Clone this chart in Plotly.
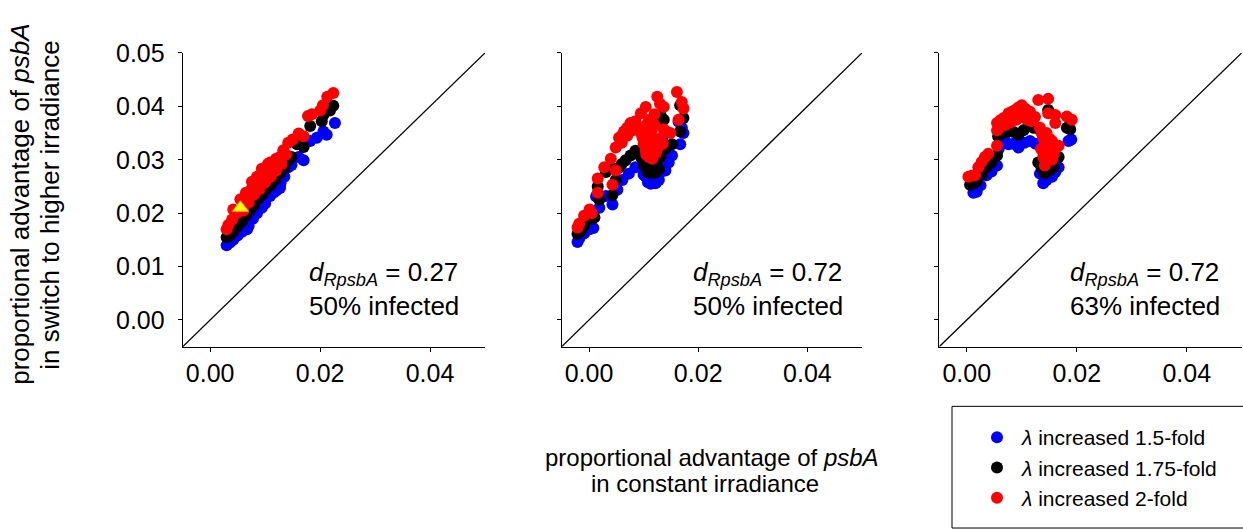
import plotly.graph_objects as go

AXIS_MIN = -0.005
AXIS_MAX = 0.05
X_TICKS = [0.00, 0.02, 0.04]
Y_TICKS = [0.00, 0.01, 0.02, 0.03, 0.04, 0.05]

SERIES_NAMES = ["<i>λ</i> increased 1.5-fold", "<i>λ</i> increased 1.75-fold", "<i>λ</i> increased 2-fold"]
SERIES_COLORS = ["#0000FF", "#000000", "#FF0000"]

PANEL_LABELS = ["<i>d</i><sub><i>RpsbA</i></sub> = 0.27<br>50% infected",
                "<i>d</i><sub><i>RpsbA</i></sub> = 0.72<br>50% infected",
                "<i>d</i><sub><i>RpsbA</i></sub> = 0.72<br>63% infected"]

# ---- panel 1 ----
P1_X_BLUE = [0.0030, 0.0036, 0.0042, 0.0050, 0.0058, 0.0067, 0.0070, 0.0078, 0.0085, 0.0094, 0.0100, 0.0109,
             0.0115, 0.0120, 0.0127, 0.0128, 0.0135, 0.0142, 0.0148, 0.0161, 0.0170, 0.0182, 0.0194, 0.0206,
             0.0212, 0.0227]
P1_Y_BLUE = [0.0140, 0.0145, 0.0150, 0.0158, 0.0165, 0.0170, 0.0176, 0.0190, 0.0200, 0.0210, 0.0218, 0.0232,
             0.0238, 0.0242, 0.0247, 0.0256, 0.0268, 0.0286, 0.0290, 0.0305, 0.0299, 0.0335, 0.0341, 0.0353,
             0.0347, 0.0369]
P1_X_BLACK = [0.0030, 0.0036, 0.0042, 0.0050, 0.0058, 0.0065, 0.0072, 0.0080, 0.0088, 0.0095, 0.0102, 0.0110,
              0.0118, 0.0127, 0.0135, 0.0142, 0.0148, 0.0158, 0.0170, 0.0182, 0.0203, 0.0206, 0.0218, 0.0224,
              0.0045, 0.0062, 0.0078, 0.0098, 0.0115]
P1_Y_BLACK = [0.0155, 0.0158, 0.0165, 0.0175, 0.0185, 0.0195, 0.0205, 0.0215, 0.0228, 0.0235, 0.0245, 0.0252,
              0.0262, 0.0274, 0.0285, 0.0299, 0.0305, 0.0329, 0.0324, 0.0363, 0.0372, 0.0384, 0.0392, 0.0401,
              0.0182, 0.0203, 0.0225, 0.0250, 0.0270]
P1_X_RED = [0.0030, 0.0033, 0.0040, 0.0042, 0.0048, 0.0055, 0.0060, 0.0065, 0.0070, 0.0076, 0.0080, 0.0085,
            0.0090, 0.0094, 0.0100, 0.0105, 0.0109, 0.0115, 0.0120, 0.0127, 0.0133, 0.0142, 0.0150, 0.0161,
            0.0170, 0.0178, 0.0185, 0.0200, 0.0205, 0.0213, 0.0224,
            0.0060, 0.0065, 0.0070, 0.0075, 0.0080, 0.0085, 0.0090, 0.0095, 0.0100, 0.0105, 0.0110, 0.0115,
            0.0120, 0.0125, 0.0130, 0.0138]
P1_Y_RED = [0.0170, 0.0178, 0.0188, 0.0207, 0.0200, 0.0226, 0.0218, 0.0238, 0.0232, 0.0259, 0.0250, 0.0268,
            0.0262, 0.0283, 0.0275, 0.0292, 0.0295, 0.0288, 0.0302, 0.0305, 0.0318, 0.0332, 0.0338, 0.0349,
            0.0344, 0.0382, 0.0385, 0.0392, 0.0402, 0.0418, 0.0425,
            0.0205, 0.0228, 0.0220, 0.0245, 0.0235, 0.0258, 0.0245, 0.0270, 0.0258, 0.0282, 0.0268, 0.0292,
            0.0280, 0.0300, 0.0292, 0.0310]
P1_REF_X = [0.0055]
P1_REF_Y = [0.0210]

# ---- panel 2 ----
P2_X_BLUE = [-0.0021, -0.0018, -0.0009, 0.0001, 0.0008, 0.0013, 0.0019, 0.0031, 0.0043, 0.0052, 0.0061, 0.0073,
             0.0085, 0.0095, 0.0100, 0.0104, 0.0110, 0.0116, 0.0119, 0.0125, 0.0130, 0.0140, 0.0146, 0.0152,
             0.0134, 0.0167, 0.0173, 0.0164, 0.0170, 0.0108, 0.0113, 0.0122, 0.0128]
P2_Y_BLUE = [0.0146, 0.0152, 0.0162, 0.0170, 0.0172, 0.0231, 0.0210, 0.0232, 0.0216, 0.0244, 0.0262, 0.0274,
             0.0286, 0.0286, 0.0272, 0.0268, 0.0264, 0.0259, 0.0262, 0.0268, 0.0275, 0.0280, 0.0295, 0.0308,
             0.0341, 0.0329, 0.0350, 0.0371, 0.0360, 0.0258, 0.0255, 0.0256, 0.0262]
P2_X_BLACK = [-0.0021, -0.0015, -0.0009, 0.0004, 0.0010, 0.0016, 0.0019, 0.0031, 0.0043, 0.0049, 0.0055, 0.0067,
              0.0076, 0.0085, 0.0095, 0.0100, 0.0104, 0.0112, 0.0119, 0.0125, 0.0131, 0.0140, 0.0152, 0.0131,
              0.0137, 0.0167, 0.0173, 0.0167, 0.0110, 0.0108, 0.0115, 0.0122, 0.0128, 0.0040, 0.0060]
P2_Y_BLACK = [0.0161, 0.0166, 0.0176, 0.0189, 0.0192, 0.0250, 0.0225, 0.0277, 0.0234, 0.0262, 0.0285, 0.0299,
              0.0308, 0.0317, 0.0305, 0.0292, 0.0286, 0.0282, 0.0280, 0.0290, 0.0305, 0.0320, 0.0329, 0.0384,
              0.0375, 0.0402, 0.0378, 0.0353, 0.0360, 0.0276, 0.0275, 0.0276, 0.0282, 0.0285, 0.0292]
P2_X_RED = [-0.0021, -0.0018, -0.0009, 0.0001, 0.0005, 0.0016, 0.0016, 0.0028, 0.0040, 0.0043, 0.0049, 0.0049,
            0.0055, 0.0060, 0.0064, 0.0070, 0.0076, 0.0085, 0.0095, 0.0104, 0.0098, 0.0100, 0.0104, 0.0108,
            0.0110, 0.0112, 0.0116, 0.0118, 0.0120, 0.0122, 0.0125, 0.0128, 0.0130, 0.0137, 0.0137, 0.0143,
            0.0149, 0.0161, 0.0170, 0.0173, 0.0164, 0.0105, 0.0115, 0.0125, 0.0110, 0.0120,
            0.0100, 0.0105, 0.0110, 0.0115, 0.0120, 0.0125, 0.0130, 0.0135, 0.0110, 0.0105, 0.0095, 0.0090,
            0.0080, 0.0070, 0.0060]
P2_Y_RED = [0.0173, 0.0180, 0.0195, 0.0207, 0.0200, 0.0238, 0.0265, 0.0286, 0.0302, 0.0253, 0.0280, 0.0323,
            0.0341, 0.0332, 0.0353, 0.0345, 0.0369, 0.0372, 0.0387, 0.0399, 0.0341, 0.0360, 0.0317, 0.0330,
            0.0305, 0.0350, 0.0302, 0.0340, 0.0365, 0.0312, 0.0418, 0.0326, 0.0405, 0.0399, 0.0357, 0.0352,
            0.0350, 0.0427, 0.0408, 0.0396, 0.0375, 0.0345, 0.0320, 0.0335, 0.0375, 0.0385,
            0.0330, 0.0310, 0.0340, 0.0355, 0.0330, 0.0320, 0.0340, 0.0330, 0.0320, 0.0365, 0.0350, 0.0360,
            0.0355, 0.0360, 0.0345]

# ---- panel 3 ----
P3_X_BLUE = [0.0012, 0.0018, 0.0025, 0.0036, 0.0045, 0.0055, 0.0058, 0.0061, 0.0070, 0.0076, 0.0085, 0.0094,
             0.0105, 0.0115, 0.0125, 0.0133, 0.0139, 0.0145, 0.0155, 0.0161, 0.0167, 0.0185, 0.0190]
P3_Y_BLUE = [0.0238, 0.0240, 0.0252, 0.0271, 0.0278, 0.0289, 0.0320, 0.0329, 0.0335, 0.0329, 0.0330, 0.0323,
             0.0332, 0.0335, 0.0330, 0.0274, 0.0256, 0.0262, 0.0268, 0.0277, 0.0286, 0.0335, 0.0338]
P3_X_BLACK = [0.0006, 0.0012, 0.0018, 0.0027, 0.0036, 0.0045, 0.0055, 0.0057, 0.0065, 0.0076, 0.0085, 0.0094,
              0.0103, 0.0112, 0.0121, 0.0130, 0.0130, 0.0136, 0.0142, 0.0150, 0.0158, 0.0167, 0.0148, 0.0188,
              0.0182]
P3_Y_BLACK = [0.0253, 0.0256, 0.0259, 0.0272, 0.0286, 0.0295, 0.0308, 0.0344, 0.0350, 0.0353, 0.0352, 0.0347,
              0.0355, 0.0363, 0.0360, 0.0358, 0.0295, 0.0285, 0.0274, 0.0280, 0.0286, 0.0305, 0.0393, 0.0357,
              0.0360]
P3_X_RED = [0.0003, 0.0009, 0.0015, 0.0021, 0.0027, 0.0033, 0.0039, 0.0055, 0.0055, 0.0055, 0.0061, 0.0067,
            0.0076, 0.0082, 0.0088, 0.0094, 0.0100, 0.0107, 0.0115, 0.0118, 0.0124, 0.0130, 0.0133, 0.0136,
            0.0139, 0.0142, 0.0145, 0.0139, 0.0142, 0.0148, 0.0148, 0.0152, 0.0158, 0.0161, 0.0161, 0.0167,
            0.0182, 0.0191, 0.0150, 0.0155,
            0.0060, 0.0070, 0.0080, 0.0090, 0.0100, 0.0110,
            0.0150, 0.0160, 0.0155, 0.0148, 0.0135, 0.0145]
P3_Y_RED = [0.0268, 0.0270, 0.0271, 0.0286, 0.0296, 0.0305, 0.0311, 0.0326, 0.0355, 0.0369, 0.0374, 0.0378,
            0.0387, 0.0390, 0.0393, 0.0398, 0.0402, 0.0395, 0.0390, 0.0372, 0.0380, 0.0412, 0.0360, 0.0350,
            0.0341, 0.0330, 0.0323, 0.0305, 0.0289, 0.0414, 0.0387, 0.0315, 0.0311, 0.0384, 0.0369, 0.0326,
            0.0381, 0.0375, 0.0340, 0.0335,
            0.0360, 0.0365, 0.0370, 0.0375, 0.0380, 0.0375,
            0.0320, 0.0320, 0.0300, 0.0300, 0.0320, 0.0350]

PANELS = [
    [(P1_X_BLUE, P1_Y_BLUE), (P1_X_BLACK, P1_Y_BLACK), (P1_X_RED, P1_Y_RED)],
    [(P2_X_BLUE, P2_Y_BLUE), (P2_X_BLACK, P2_Y_BLACK), (P2_X_RED, P2_Y_RED)],
    [(P3_X_BLUE, P3_Y_BLUE), (P3_X_BLACK, P3_Y_BLACK), (P3_X_RED, P3_Y_RED)],
]

FONT = "Liberation Sans, Arial, sans-serif"
W, H = 1243, 529

fig = go.Figure()
for i, panel in enumerate(PANELS):
    xa = "x" if i == 0 else f"x{i + 1}"
    ya = "y" if i == 0 else f"y{i + 1}"
    fig.add_trace(go.Scatter(x=[AXIS_MIN, AXIS_MAX], y=[AXIS_MIN, AXIS_MAX], mode="lines",
                             line=dict(color="black", width=1.3), xaxis=xa, yaxis=ya,
                             showlegend=False, hoverinfo="skip"))
    for k, (xs, ys) in enumerate(panel):
        fig.add_trace(go.Scatter(x=xs, y=ys, mode="markers", name=SERIES_NAMES[k],
                                 legendgroup=f"s{k}", showlegend=(i == 0),
                                 marker=dict(color=SERIES_COLORS[k], size=12, line=dict(width=0)),
                                 xaxis=xa, yaxis=ya))
    if i == 0:
        fig.add_trace(go.Scatter(x=P1_REF_X, y=P1_REF_Y, mode="markers", showlegend=False,
                                 marker=dict(symbol="triangle-up", color="#FFFF00", size=14,
                                             line=dict(color="#E0B000", width=1)),
                                 xaxis=xa, yaxis=ya))

X_DOMAINS = [[182.7 / W, 485 / W], [561.7 / W, 862 / W], [939.3 / W, 1241.7 / W]]
Y_DOMAIN = [(H - 341.7) / H, (H - 40) / H]

axis_common = dict(range=[AXIS_MIN, AXIS_MAX], showline=True, linecolor="black", linewidth=1,
                   ticks="outside", ticklen=4, tickcolor="black", tickwidth=1, showgrid=False,
                   zeroline=False, mirror=False, tickformat=".2f",
                   tickfont=dict(family=FONT, size=25, color="black"))

layout = dict(width=W, height=H, margin=dict(l=0, r=0, t=0, b=0),
              plot_bgcolor="white", paper_bgcolor="white",
              font=dict(family=FONT, color="black"))
for i in range(3):
    sx = "" if i == 0 else str(i + 1)
    layout[f"xaxis{sx}"] = dict(axis_common, domain=X_DOMAINS[i], tickvals=X_TICKS,
                                anchor=f"y{sx}", ticklabelstandoff=0)
    layout[f"yaxis{sx}"] = dict(axis_common, domain=Y_DOMAIN, tickvals=Y_TICKS,
                                anchor=f"x{sx}", showticklabels=(i == 0), ticklabelstandoff=8)
fig.update_layout(**layout)

LABEL_X = [0.0176, 0.0187, 0.0184]
annotations = []
for i in range(3):
    sx = "" if i == 0 else str(i + 1)
    annotations.append(dict(x=LABEL_X[i], y=0.0058, xref=f"x{sx}", yref=f"y{sx}", text=PANEL_LABELS[i],
                            showarrow=False, xanchor="left", yanchor="middle", align="left",
                            font=dict(family=FONT, size=26, color="black")))
# y-axis title (two lines)
annotations.append(dict(x=20 / W, y=(H - 196) / H, xref="paper", yref="paper",
                        text="proportional advantage of <i>psbA</i>", textangle=-90, showarrow=False,
                        xanchor="center", yanchor="middle", font=dict(family=FONT, size=26)))
annotations.append(dict(x=50 / W, y=(H - 196) / H, xref="paper", yref="paper",
                        text="in switch to higher irradiance", textangle=-90, showarrow=False,
                        xanchor="center", yanchor="middle", font=dict(family=FONT, size=26)))
# x-axis title (two lines)
annotations.append(dict(x=712 / W, y=(H - 456) / H, xref="paper", yref="paper",
                        text="proportional advantage of <i>psbA</i>", showarrow=False,
                        xanchor="center", yanchor="middle", font=dict(family=FONT, size=24)))
annotations.append(dict(x=705 / W, y=(H - 482) / H, xref="paper", yref="paper",
                        text="in constant irradiance", showarrow=False,
                        xanchor="center", yanchor="middle", font=dict(family=FONT, size=24)))
fig.update_layout(annotations=annotations)

fig.update_layout(
    legend=dict(x=972 / W, y=(H - 414) / H, xanchor="left", yanchor="top",
                bgcolor="rgba(0,0,0,0)", borderwidth=0, itemwidth=40,
                font=dict(family=FONT, size=21, color="black"), tracegroupgap=0),
    shapes=[dict(type="rect", xref="paper", yref="paper", x0=952 / W, x1=1.01,
                 y0=(H - 528) / H, y1=(H - 403) / H, line=dict(color="black", width=1))],
)

fig.write_html("out.html")
